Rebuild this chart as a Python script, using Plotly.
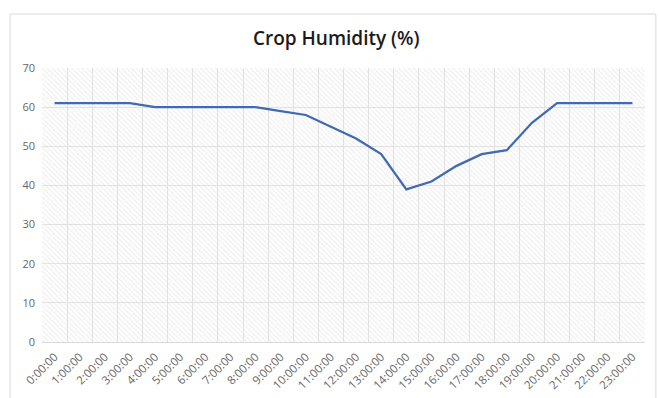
import plotly.graph_objects as go

# Hourly crop humidity readings
hours = [f"{h}:00:00" for h in range(24)]
humidity = [61, 61, 61, 61, 60, 60, 60, 60, 60, 59, 58, 55,
            52, 48, 39, 41, 45, 48, 49, 56, 61, 61, 61, 61]
y_ticks = [0, 10, 20, 30, 40, 50, 60, 70]
y_max = 70

fig = go.Figure()

# Hatched plot-area background, drawn as full-height bars behind the line
fig.add_trace(go.Bar(
    x=hours,
    y=[y_max] * len(hours),
    width=1,
    marker=dict(
        color="rgba(0,0,0,0)",
        line=dict(width=0),
        pattern=dict(shape="\\", fgcolor="#d9d9d9", bgcolor="rgba(0,0,0,0)",
                     size=3.5, solidity=0.3),
    ),
    hoverinfo="skip",
    showlegend=False,
))

fig.add_trace(go.Scatter(
    x=hours,
    y=humidity,
    mode="lines",
    line=dict(color="#4169B5", width=2.25),
    showlegend=False,
))

# Outer chart border
fig.add_shape(type="rect", xref="paper", yref="paper",
              x0=-0.053, x1=1.018, y0=-0.22, y1=1.197,
              line=dict(color="#d9d9d9", width=1), layer="below")

fig.update_layout(
    width=658,
    height=398,
    margin=dict(l=42, r=13, t=68, b=56, autoexpand=False),
    paper_bgcolor="white",
    plot_bgcolor="white",
    bargap=0,
    title=dict(text="Crop Humidity (%)", x=0.511, xanchor="center",
               y=0.903, yanchor="middle",
               font=dict(family="Open Sans", size=19, weight=600, color="#1a1a1a")),
    font=dict(family="Open Sans", color="#595959"),
)

fig.update_xaxes(
    type="category",
    range=[-0.5, 23.5],
    tickson="boundaries",
    ticks="",
    tickangle=-45,
    tickfont=dict(size=11.5, color="#666666"),
    ticklabelstandoff=5,
    showgrid=True,
    gridcolor="#e3e3e3",
    gridwidth=1,
    showline=False,
    zeroline=False,
)

fig.update_yaxes(
    range=[0, y_max],
    tickvals=y_ticks,
    ticks="",
    tickfont=dict(size=11, color="#666666"),
    ticklabelstandoff=6,
    showgrid=True,
    gridcolor="#e3e3e3",
    gridwidth=1,
    zeroline=True,
    zerolinecolor="#d9d9d9",
    zerolinewidth=1,
)

fig.write_html("out.html")
